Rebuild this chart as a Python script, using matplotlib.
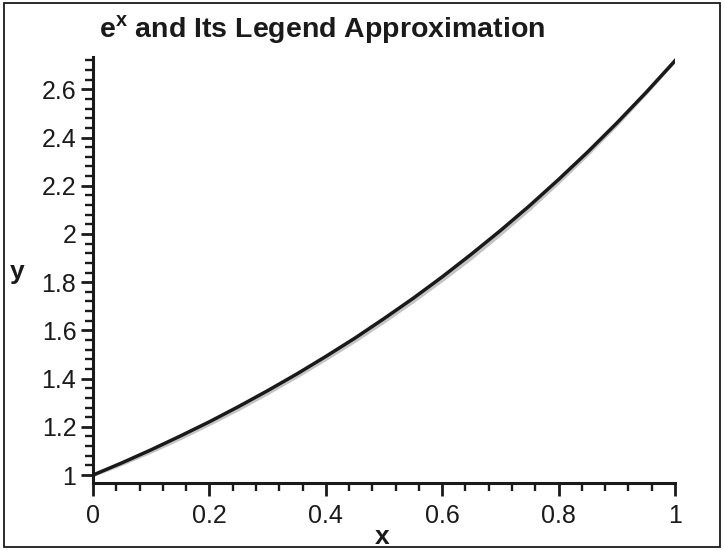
import matplotlib.pyplot as plt
from matplotlib.patches import Rectangle

# values
x_values = [0, 0.05, 0.1, 0.15, 0.2, 0.25, 0.3, 0.35, 0.4, 0.45, 0.5,
            0.55, 0.6, 0.65, 0.7, 0.75, 0.8, 0.85, 0.9, 0.95, 1.0]
exp_values = [1.000, 1.051, 1.105, 1.162, 1.221, 1.284, 1.350, 1.419, 1.492, 1.568, 1.649,
              1.733, 1.822, 1.916, 2.014, 2.117, 2.226, 2.340, 2.460, 2.586, 2.718]
approx_values = [0.999, 1.046, 1.097, 1.152, 1.211, 1.273, 1.339, 1.408, 1.481, 1.556, 1.636,
                 1.720, 1.808, 1.900, 1.999, 2.103, 2.214, 2.330, 2.453, 2.583, 2.718]
x_ticks = [0, 0.2, 0.4, 0.6, 0.8, 1]
x_ticklabels = ['0', '0.2', '0.4', '0.6', '0.8', '1']
y_ticks = [1, 1.2, 1.4, 1.6, 1.8, 2, 2.2, 2.4, 2.6]
y_ticklabels = ['1', '1.2', '1.4', '1.6', '1.8', '2', '2.2', '2.4', '2.6']

plt.rcParams['font.family'] = ['Liberation Sans', 'DejaVu Sans']
ink = '#1a1a1a'

fig = plt.figure(figsize=(7.24, 5.5), dpi=100)
ax = fig.add_axes([0.1285, 0.1218, 0.8038, 0.7746])

# approximation in light gray, e^x in black on top
ax.plot(x_values, approx_values, color='#c4c4c4', lw=2.8, zorder=2)
ax.plot(x_values, exp_values, color=ink, lw=2.5, zorder=3)

ax.set_xlim(0, 1)
ax.set_ylim(0.967, 2.734)
for side in ['top', 'right']:
    ax.spines[side].set_visible(False)
for side in ['left', 'bottom']:
    ax.spines[side].set_linewidth(2.2)
    ax.spines[side].set_color(ink)

ax.set_xticks(x_ticks)
ax.set_xticklabels(x_ticklabels)
ax.set_yticks(y_ticks)
ax.set_yticklabels(y_ticklabels)
ax.set_xticks([i * 0.04 for i in range(26)], minor=True)
ax.set_yticks([1 + i * 0.04 for i in range(44)], minor=True)
ax.tick_params(which='major', direction='out', length=9, width=2.0, color=ink,
               labelsize=18, labelcolor=ink)
ax.tick_params(which='minor', direction='out', length=6, width=1.7, color=ink)
ax.tick_params(axis='x', which='major', pad=6)
ax.tick_params(axis='y', which='major', pad=3)

# title and axis labels placed in figure pixels like the reference
fig.text(322 / 724, 1 - 30 / 550, 'e$^{\\mathregular{x}}$ and Its Legend Approximation',
         fontsize=20.5, fontweight='bold', color=ink, ha='center', va='center')
fig.text(382 / 724, 1 - 537 / 550, 'x', fontsize=19, fontweight='bold', color=ink,
         ha='center', va='center')
fig.text(17 / 724, 1 - 272 / 550, 'y', fontsize=19, fontweight='bold', color=ink,
         ha='center', va='center')

# frame around the whole picture
fig.patches.append(Rectangle((0.006, 0.006), 0.989, 0.988, transform=fig.transFigure,
                             fill=False, edgecolor=ink, lw=1.3))

fig.savefig('out.png', dpi=100)
